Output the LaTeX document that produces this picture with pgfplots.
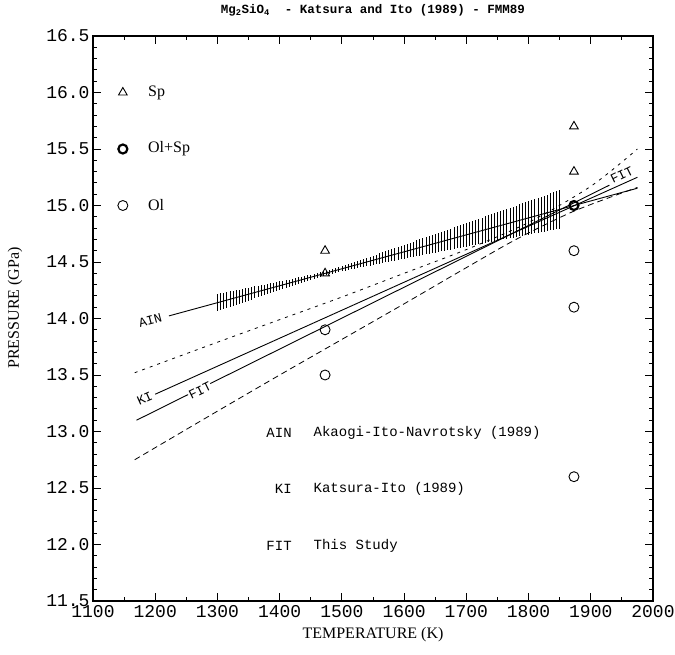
\documentclass[border=0pt]{standalone}
\usepackage{fontspec}
\setmainfont{Liberation Serif}
\setmonofont{Liberation Mono}
\usepackage{pgfplots}
\usepackage{pgfplotstable}
\pgfplotsset{compat=1.18}

\newcommand\tickfont{\fontsize{18}{18}\selectfont\ttfamily}
\newcommand\labfont{\fontsize{16}{16}\selectfont\rmfamily}
\newcommand\linefont{\fontsize{13}{13}\selectfont\ttfamily}
\newcommand\keyfont{\fontsize{14}{14}\selectfont\ttfamily}

% hatch band along AIN: T, centre, half width
\pgfplotstableread{
T P E
1300 14.141 0.078
1305 14.148 0.076
1310 14.156 0.074
1315 14.163 0.072
1320 14.171 0.070
1325 14.178 0.067
1330 14.186 0.065
1335 14.193 0.063
1340 14.201 0.061
1345 14.208 0.059
1350 14.216 0.057
1355 14.223 0.055
1360 14.231 0.053
1365 14.238 0.051
1370 14.246 0.049
1375 14.253 0.047
1380 14.261 0.045
1385 14.268 0.043
1390 14.276 0.041
1395 14.283 0.039
1400 14.291 0.037
1405 14.298 0.035
1410 14.306 0.033
1415 14.313 0.031
1420 14.321 0.030
1425 14.328 0.028
1430 14.336 0.027
1435 14.343 0.025
1440 14.351 0.024
1445 14.358 0.023
1450 14.366 0.022
1455 14.373 0.021
1460 14.381 0.021
1465 14.388 0.020
1470 14.396 0.020
1475 14.403 0.020
1480 14.411 0.021
1485 14.418 0.021
1490 14.426 0.022
1495 14.433 0.023
1500 14.441 0.024
1505 14.448 0.025
1510 14.456 0.027
1515 14.463 0.028
1520 14.471 0.030
1525 14.478 0.031
1530 14.486 0.033
1535 14.493 0.035
1540 14.501 0.037
1545 14.508 0.039
1550 14.516 0.041
1555 14.523 0.043
1560 14.531 0.045
1565 14.538 0.047
1570 14.546 0.049
1575 14.553 0.051
1580 14.561 0.053
1585 14.568 0.055
1590 14.576 0.057
1595 14.583 0.059
1600 14.591 0.061
1605 14.598 0.063
1610 14.606 0.065
1615 14.613 0.067
1620 14.621 0.070
1625 14.628 0.072
1630 14.636 0.074
1635 14.643 0.076
1640 14.651 0.078
1645 14.658 0.080
1650 14.666 0.082
1655 14.673 0.085
1660 14.681 0.087
1665 14.688 0.089
1670 14.696 0.091
1675 14.703 0.093
1680 14.711 0.095
1685 14.718 0.098
1690 14.726 0.100
1695 14.733 0.102
1700 14.741 0.104
1705 14.748 0.107
1710 14.756 0.109
1715 14.763 0.111
1720 14.771 0.113
1725 14.778 0.115
1730 14.786 0.117
1735 14.793 0.120
1740 14.801 0.122
1745 14.808 0.124
1750 14.816 0.126
1755 14.823 0.128
1760 14.831 0.130
1765 14.838 0.133
1770 14.846 0.135
1775 14.853 0.137
1780 14.861 0.139
1785 14.868 0.142
1790 14.876 0.144
1795 14.883 0.146
1800 14.891 0.148
1805 14.898 0.150
1810 14.906 0.152
1815 14.913 0.155
1820 14.921 0.157
1825 14.928 0.159
1830 14.936 0.161
1835 14.943 0.164
1840 14.951 0.166
1845 14.958 0.168
1850 14.966 0.170
}\hatch

\begin{document}
\begin{tikzpicture}
\path[use as bounding box] (-93pt,-53pt) rectangle (582pt,601pt);
\begin{axis}[
    scale only axis,
    width=560pt, height=565pt,
    xmin=1100, xmax=2000,
    ymin=11.5, ymax=16.5,
    xtick={1100,1200,...,2000},
    ytick={11.5,12,...,16.5},
    minor x tick num=1,
    minor y tick num=4,
    major tick length=8pt,
    minor tick length=4pt,
    tick style={black, line width=0.9pt},
    axis line style={line width=1.2pt},
    tick label style={font=\tickfont},
    /pgf/number format/assume math mode=true,
    x tick label style={/pgf/number format/1000 sep={}, yshift=-1pt},
    y tick label style={/pgf/number format/.cd, fixed, fixed zerofill, precision=1},
    clip=false,
]
% hatching
\addplot[forget plot, no marks, draw=none,
    error bars/.cd, y dir=both, y explicit,
    error bar style={draw=black, solid, line width=0.6pt}, error mark=none]
    table[x=T, y=P, y error=E] {\hatch};

% AIN
\addplot[black, line width=0.9pt, no marks] coordinates {(1222,14.023) (1975,15.153)};
% KI
\addplot[black, line width=0.9pt, no marks] coordinates {(1200,13.33) (1975,15.25)};
% FIT
\addplot[black, line width=0.9pt, no marks] coordinates {(1170,13.10) (1930,15.18)};
% upper band
\addplot[black, line width=0.8pt, no marks, dash pattern=on 3pt off 5pt, smooth] coordinates {
    (1167,13.52) (1300,13.79) (1400,13.99) (1500,14.19) (1600,14.40)
    (1700,14.61) (1800,14.85) (1900,15.17) (1975,15.50)};
% lower band
\addplot[black, line width=0.8pt, no marks, dash pattern=on 6pt off 4pt, smooth] coordinates {
    (1167,12.75) (1300,13.18) (1400,13.50) (1473,13.73) (1600,14.13)
    (1700,14.45) (1780,14.70) (1873,14.95) (1975,15.16)};

% Sp
\addplot[only marks, mark=triangle, mark size=5pt, mark options={line width=0.9pt}] coordinates {
    (1148,16.0) (1473,14.6) (1473,14.4) (1873,15.7) (1873,15.3)};
% Ol+Sp
\addplot[only marks, mark=o, mark size=4.5pt, mark options={line width=2.2pt}] coordinates {
    (1148,15.5) (1873,15.0)};
% Ol
\addplot[only marks, mark=o, mark size=5pt, mark options={line width=0.9pt}] coordinates {
    (1148,15.0) (1473,13.9) (1473,13.5) (1873,14.6) (1873,14.1) (1873,12.6)};

% key of symbols
\node[anchor=west, font=\labfont] at (axis cs:1183,16.0) {Sp};
\node[anchor=west, font=\labfont] at (axis cs:1183,15.5) {Ol+Sp};
\node[anchor=west, font=\labfont] at (axis cs:1183,15.0) {Ol};

% line labels
\node[font=\linefont, rotate=15, inner sep=1pt] at (axis cs:1192,13.98) {AIN};
\node[font=\linefont, rotate=24, inner sep=1pt] at (axis cs:1183,13.29) {KI};
\node[font=\linefont, rotate=26, fill=white, inner sep=0.5pt] at (axis cs:1272,13.36) {FIT};
\node[font=\linefont, rotate=26, fill=white, inner sep=0.5pt] at (axis cs:1950,15.27) {FIT};

% key of lines
\node[anchor=east, font=\keyfont] at (axis cs:1425,12.99) {AIN};
\node[anchor=west, font=\keyfont] at (axis cs:1449,12.99) {Akaogi-Ito-Navrotsky (1989)};
\node[anchor=east, font=\keyfont] at (axis cs:1425,12.49) {KI};
\node[anchor=west, font=\keyfont] at (axis cs:1449,12.49) {Katsura-Ito (1989)};
\node[anchor=east, font=\keyfont] at (axis cs:1425,11.99) {FIT};
\node[anchor=west, font=\keyfont] at (axis cs:1449,11.99) {This Study};

% x label and title
\node[font=\labfont] at (axis description cs:0.5,0) [yshift=-34pt] {TEMPERATURE (K)};
\node[font=\fontsize{12.5}{12.5}\selectfont\ttfamily\bfseries] at (axis description cs:0.5,1) [yshift=26pt]
    {Mg\textsubscript{2}SiO\textsubscript{4}\ \ - Katsura and Ito (1989) - FMM89};
\end{axis}
\node[font=\labfont, rotate=90] at (-78pt,293pt) {PRESSURE (GPa)};
\end{tikzpicture}
\end{document}
